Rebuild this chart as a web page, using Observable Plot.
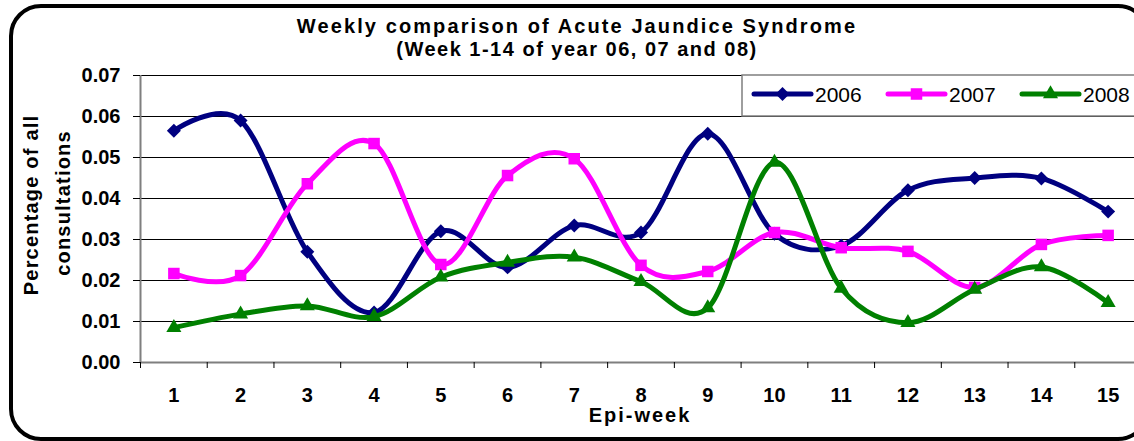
<!DOCTYPE html>
<html><head><meta charset="utf-8">
<script src="https://cdn.jsdelivr.net/npm/d3@7"></script>
<script src="https://cdn.jsdelivr.net/npm/@observablehq/plot@0.6"></script>
<style>
html,body{margin:0;padding:0;background:#fff;overflow:hidden;}
#wrap{position:relative;width:1134px;height:441px;overflow:hidden;font-family:"Liberation Sans",Arial,sans-serif;background:#fff;}
#wrap svg{position:absolute;left:0;top:0;}
#frame{position:absolute;left:9px;top:4px;width:1141px;height:437px;border:4px solid #000;border-radius:32px;box-sizing:border-box;}
</style></head><body><div id="wrap"><div id="frame"></div></div>
<script>
const weeks = [1,2,3,4,5,6,7,8,9,10,11,12,13,14,15];
const series = ["2006","2007","2008"];
const v2006 = [0.0565,0.0590,0.0270,0.0122,0.0320,0.0232,0.0334,0.0317,0.0558,0.0314,0.0285,0.0420,0.0450,0.0449,0.0368];
const v2007 = [0.0217,0.0212,0.0436,0.0534,0.0239,0.0456,0.0497,0.0237,0.0222,0.0317,0.0280,0.0271,0.0183,0.0288,0.0310];
const v2008 = [0.0085,0.0118,0.0138,0.0112,0.0208,0.0244,0.0257,0.0197,0.0133,0.0488,0.0181,0.0097,0.0178,0.0233,0.0146];
const yTicks = [0,0.01,0.02,0.03,0.04,0.05,0.06,0.07];
const xBounds = [0.5,1.5,2.5,3.5,4.5,5.5,6.5,7.5,8.5,9.5,10.5,11.5,12.5,13.5,14.5,15.5];
const colors = ["#000080","#FF00FF","#008000"];
const symbols = ["diamond2","square","triangle"];
const radii = [6.3,6.5,5.6];
const titleText = "Weekly comparison of Acute Jaundice Syndrome";
const subtitleText = "(Week 1-14 of year 06, 07 and 08)";
const xLabel = "Epi-week";
const yLabel1 = "Percentage of all";
const yLabel2 = "consultations";

const values = [v2006, v2007, v2008];
const rows = [];
values.forEach((vals, i) => vals.forEach((v, j) => rows.push({year: series[i], week: weeks[j], value: v})));

const seriesMarks = [];
series.forEach((s, i) => {
  const data = rows.filter(d => d.year === s);
  seriesMarks.push(Plot.line(data, {x: "week", y: "value", stroke: "year", strokeWidth: 5, curve: "cardinal"}));
  seriesMarks.push(Plot.dot(data, {x: "week", y: "value", symbol: "year", fill: "year", r: radii[i]}));
});

const chart = Plot.plot({
  width: 1134, height: 441,
  marginTop: 75, marginBottom: 79, marginLeft: 140, marginRight: 0,
  x: {domain: [0.5, 15.5], range: [140, 1141]},
  y: {domain: [0, 0.07], range: [362, 75]},
  color: {domain: series, range: colors},
  symbol: {domain: series, range: symbols},
  style: {fontFamily: '"Liberation Sans", Arial, sans-serif', background: "transparent", overflow: "hidden"},
  marks: [
    Plot.gridY(yTicks, {stroke: "#000", strokeOpacity: 1, strokeWidth: 1}),
    Plot.ruleX([0.5], {stroke: "#7f7f7f", strokeWidth: 2}),
    Plot.ruleY([0], {stroke: "#7f7f7f", strokeWidth: 2}),
    Plot.axisY(yTicks, {tickSize: 7, tickPadding: 13, tickFormat: d3.format(".2f"), fontSize: 20, fontWeight: "bold", label: null}),
    Plot.axisX(weeks, {tickSize: 0, tickPadding: 25, tickFormat: d => String(d), fontSize: 20, fontWeight: "bold", label: null}),
    Plot.axisX(xBounds, {tickSize: 6, tickFormat: () => "", label: null}),
    ...seriesMarks
  ]
});
const wrap = document.getElementById("wrap");
wrap.appendChild(chart);

// overlay: titles, axis labels, legend
const ov = d3.select(wrap).append("svg").attr("width", 1134).attr("height", 441)
  .style("font-family", '"Liberation Sans", Arial, sans-serif');
ov.append("text").attr("x", 577).attr("y", 33).attr("text-anchor", "middle")
  .attr("font-size", 20).attr("font-weight", "bold").style("letter-spacing", "2.1px").text(titleText);
ov.append("text").attr("x", 577).attr("y", 56).attr("text-anchor", "middle")
  .attr("font-size", 20).attr("font-weight", "bold").style("letter-spacing", "1.5px").text(subtitleText);
ov.append("text").attr("x", 640).attr("y", 422).attr("text-anchor", "middle")
  .attr("font-size", 20).attr("font-weight", "bold").style("letter-spacing", "2px").text(xLabel);
ov.append("text").attr("transform", "translate(38,205) rotate(-90)").attr("text-anchor", "middle")
  .attr("font-size", 20).attr("font-weight", "bold").style("letter-spacing", "1.2px").text(yLabel1);
ov.append("text").attr("transform", "translate(70,203) rotate(-90)").attr("text-anchor", "middle")
  .attr("font-size", 20).attr("font-weight", "bold").style("letter-spacing", "1.2px").text(yLabel2);

const lg = ov.append("g");
lg.append("rect").attr("x", 742).attr("y", 75).attr("width", 420).attr("height", 41)
  .attr("fill", "#fff").attr("stroke", "#7f7f7f").attr("stroke-width", 1.5);
const d3sym = {diamond2: d3.symbolDiamond2, square: d3.symbolSquare, triangle: d3.symbolTriangle};
series.forEach((s, i) => {
  const x0 = 754 + i * 134;
  lg.append("line").attr("x1", x0).attr("x2", x0 + 57).attr("y1", 94).attr("y2", 94)
    .attr("stroke", colors[i]).attr("stroke-width", 5).attr("stroke-linecap", "round");
  lg.append("path").attr("transform", `translate(${x0 + 28.5},94)`)
    .attr("d", d3.symbol().type(d3sym[symbols[i]]).size(Math.PI * radii[i] * radii[i])())
    .attr("fill", colors[i]);
  lg.append("text").attr("x", x0 + 61).attr("y", 102).attr("font-size", 21).text(s);
});
</script></body></html>
